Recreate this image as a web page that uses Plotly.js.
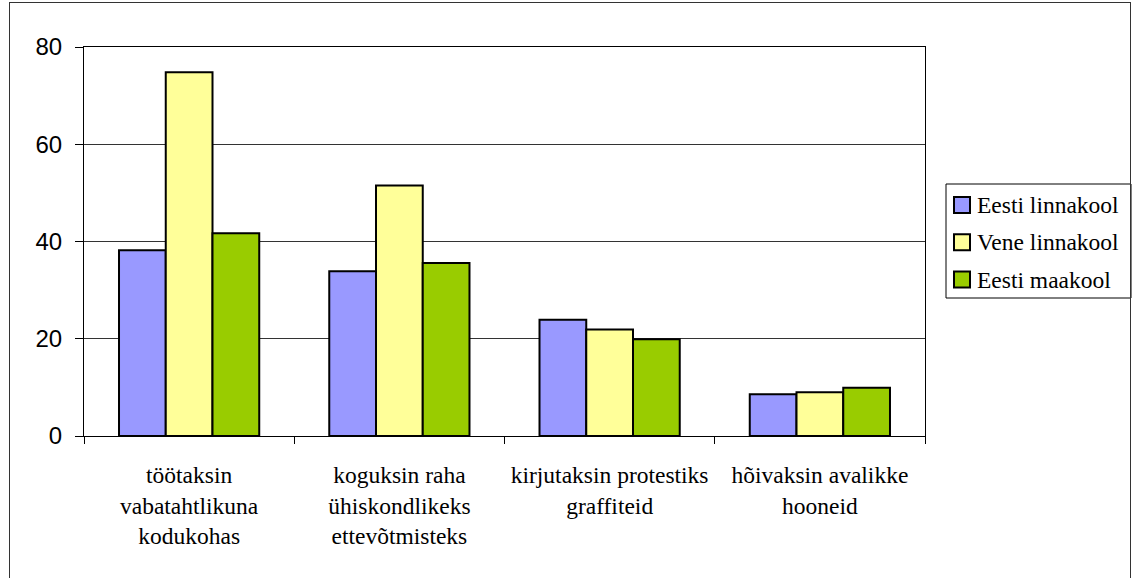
<!DOCTYPE html>
<html>
<head>
<meta charset="utf-8">
<script src="https://cdn.plot.ly/plotly-3.0.1.min.js"></script>
<style>
  html, body { margin: 0; padding: 0; background: #fff; }
  #wrap { position: relative; width: 1132px; height: 578px; overflow: hidden; }
  #chart { position: absolute; left: 0; top: 0; width: 1132px; height: 578px; }
  #frame { position: absolute; left: 9px; top: 2px; width: 1122px; height: 600px; border: 1px solid #333; box-sizing: border-box; pointer-events: none; }
</style>
</head>
<body>
<div id="wrap">
  <div id="chart"></div>
  <div id="frame"></div>
</div>
<script>
const categories = [
  "töötaksin<br>vabatahtlikuna<br>kodukohas",
  "koguksin raha<br>ühiskondlikeks<br>ettevõtmisteks",
  "kirjutaksin protestiks<br>graffiteid",
  "hõivaksin avalikke<br>hooneid"
];
const seriesNames = ["Eesti linnakool", "Vene linnakool", "Eesti maakool"];
const eestiLinnakool = [38.2, 33.9, 23.9, 8.6];
const veneLinnakool = [74.8, 51.5, 21.9, 9.0];
const eestiMaakool = [41.7, 35.6, 19.9, 9.9];
const yTicks = [0, 20, 40, 60, 80];

const colors = ["#9999FF", "#FFFF99", "#99CC00"];
const values = [eestiLinnakool, veneLinnakool, eestiMaakool];
const serif = "'Liberation Serif', 'DejaVu Serif', serif";
const sans = "'Liberation Sans', Arial, sans-serif";

const traces = values.map((v, i) => ({
  type: "bar",
  name: seriesNames[i],
  x: categories,
  y: v,
  marker: { color: colors[i], line: { color: "#000", width: 2 } },
  hoverinfo: "skip",
  showlegend: false
}));

// Plot area in pixels (for converting legend layout to paper coords)
const W = 1132, H = 578;
const M = { l: 84, r: 207, t: 47, b: 142 };
const pw = W - M.l - M.r, ph = H - M.t - M.b;
const px = x => (x - M.l) / pw;
const py = y => (H - M.b - y) / ph;

// custom legend (box + swatches + labels), built from seriesNames/colors
const legBox = { x0: 946, x1: 1131, y0: 184, y1: 298 };
const itemY = [205, 242.3, 279.5];
const shapes = [{
  type: "rect", xref: "paper", yref: "paper",
  x0: px(legBox.x0), x1: px(legBox.x1), y0: py(legBox.y1), y1: py(legBox.y0),
  line: { color: "#000", width: 1 }, fillcolor: "#fff", layer: "above"
}];
const annotations = [];
seriesNames.forEach((name, i) => {
  shapes.push({
    type: "rect", xref: "paper", yref: "paper",
    x0: px(954), x1: px(970), y0: py(itemY[i] + 8), y1: py(itemY[i] - 8),
    line: { color: "#000", width: 2 }, fillcolor: colors[i], layer: "above"
  });
  annotations.push({
    xref: "paper", yref: "paper", x: px(975), y: py(itemY[i]),
    xanchor: "left", yanchor: "middle", showarrow: false,
    text: name,
    font: { family: serif, size: 23.5, color: "#000" }
  });
});

const layout = {
  width: W,
  height: H,
  margin: { l: M.l, r: M.r, t: M.t, b: M.b, pad: 0, autoexpand: false },
  paper_bgcolor: "#fff",
  plot_bgcolor: "#fff",
  barmode: "group",
  bargap: 0.333,
  bargroupgap: 0,
  showlegend: false,
  shapes: shapes,
  annotations: annotations,
  xaxis: {
    type: "category",
    showline: true, linecolor: "#000", linewidth: 1,
    mirror: true,
    ticks: "outside", ticklen: 7, tickcolor: "#000", tickwidth: 1,
    tickson: "boundaries",
    tickangle: 0,
    showgrid: false,
    tickfont: { family: serif, size: 23.5, color: "#000" },
    ticklabelstandoff: 18,
    automargin: false,
    fixedrange: true
  },
  yaxis: {
    range: [0, 80],
    tickvals: yTicks,
    ticktext: yTicks.map(String),
    showline: true, linecolor: "#000", linewidth: 1,
    mirror: true,
    ticks: "outside", ticklen: 8, tickcolor: "#000", tickwidth: 1,
    showgrid: true, gridcolor: "#333", gridwidth: 1,
    zeroline: false,
    tickfont: { family: sans, size: 24, color: "#000" },
    ticklabelstandoff: 8,
    automargin: false,
    fixedrange: true
  }
};

Plotly.newPlot("chart", traces, layout, { displayModeBar: false, staticPlot: true });
</script>
</body>
</html>
